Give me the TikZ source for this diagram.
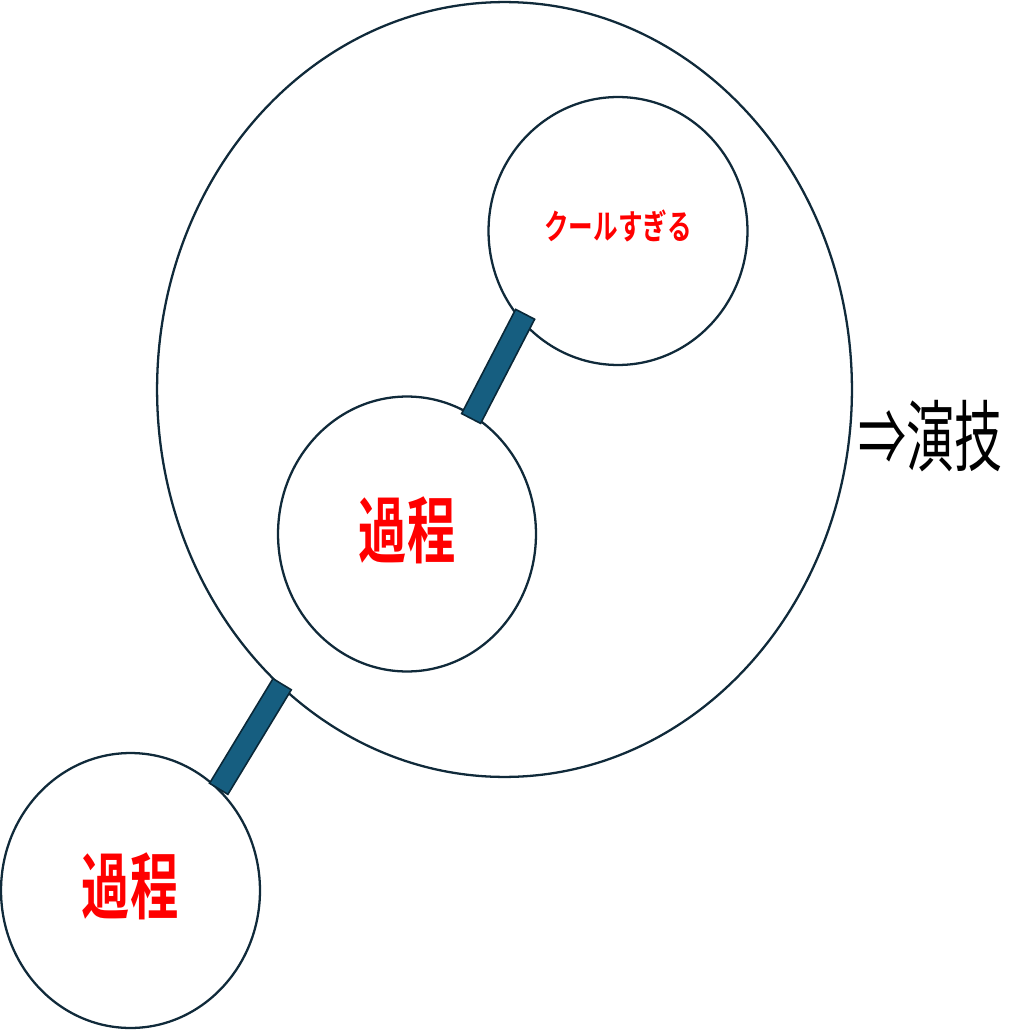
\documentclass[tikz,border=0pt]{standalone}
\usepackage{fontspec}
\usepackage{graphicx}
\newfontfamily\jpfont{Noto Sans CJK JP}
\newfontfamily\jpbold{Noto Sans CJK JP Bold}
\usetikzlibrary{shapes.geometric, calc}
\definecolor{rimline}{RGB}{16,42,58}
\definecolor{barline}{RGB}{10,40,56}
\definecolor{barfill}{RGB}{22,94,128}
\begin{document}
\begin{tikzpicture}[x=0.02cm, y=-0.02cm,
        bubble/.style={ellipse, draw=rimline, line width=1.3pt, inner sep=0pt, outer sep=0pt},
        bigword/.style={text=red, font=\jpbold\fontsize{27.5}{28}\selectfont},
        bar/.style={line width=0.46cm, draw=barline,
            postaction={draw=barfill, line width=0.39cm, shorten <=0.035cm, shorten >=0.035cm}}]
        \useasboundingbox (0,0) rectangle (1030,1030);
        % ── burbujas ──────────────────────────
        \node[bubble, minimum width=13.9cm, minimum height=15.5cm] (outer) at (504.5,389.5) {};
        \node[bubble, minimum width=5.18cm, minimum height=5.36cm] (cool) at (618,231) {};
        \node[bubble, minimum width=5.16cm, minimum height=5.5cm] (proc) at (407,534) {};
        \node[bubble, minimum width=5.18cm, minimum height=5.5cm] (low) at (130.5,890.5) {};
        % ── textos ──────────────────────────
        \node[text=red, font=\jpbold\fontsize{14}{14}\selectfont] (coolword) at (618,226) {\scalebox{1}[1.4]{クールすぎる}};
        \node[bigword] (procword) at (407,530) {\scalebox{1}[1.5]{過程}};
        \node[bigword] (lowword) at (130,886) {\scalebox{1}[1.5]{過程}};
        \node[anchor=west, inner sep=0pt, font=\jpfont\fontsize{26}{26}\selectfont] (act) at (858,436) {\scalebox{1.05}[1.7]{⇒演技}};
        % ── enlaces ──────────────────────────
        \draw[bar] ($(cool.223)!-0.16cm!(proc.61)$) -- ($(proc.61)!-0.08cm!(cool.223)$);
        \draw[bar] ($(outer.233)!-0.06cm!(low.49)$) -- (low.49);
    \end{tikzpicture}
\end{document}
